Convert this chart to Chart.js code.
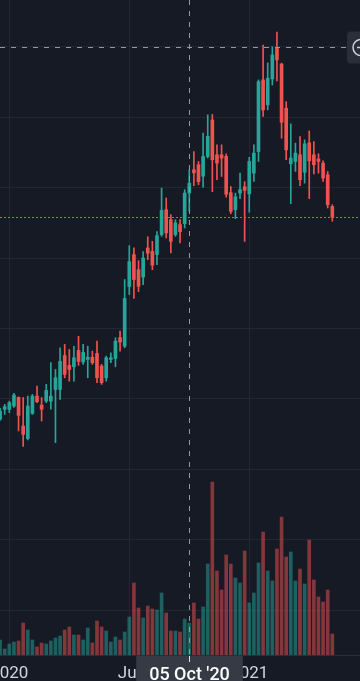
<!DOCTYPE html>
<html>
<head>
<meta charset="utf-8">
<title>Weekly candles</title>
<script src="https://cdn.jsdelivr.net/npm/chart.js@4.4.1/dist/chart.umd.min.js"></script>
<style>
  html, body { margin: 0; padding: 0; background: #161a25; overflow: hidden; }
  canvas { display: block; }
</style>
</head>
<body>
<canvas id="chart" width="360" height="681"></canvas>
<script>
// ========== 1. Data (weekly bars) ==========
const weeks = [
  '2019-12-23', '2019-12-30', '2020-01-06', '2020-01-13', '2020-01-20', '2020-01-27', '2020-02-03', '2020-02-10',
  '2020-02-17', '2020-02-24', '2020-03-02', '2020-03-09', '2020-03-16', '2020-03-23', '2020-03-30', '2020-04-06',
  '2020-04-13', '2020-04-20', '2020-04-27', '2020-05-04', '2020-05-11', '2020-05-18', '2020-05-25', '2020-06-01',
  '2020-06-08', '2020-06-15', '2020-06-22', '2020-06-29', '2020-07-06', '2020-07-13', '2020-07-20', '2020-07-27',
  '2020-08-03', '2020-08-10', '2020-08-17', '2020-08-24', '2020-08-31', '2020-09-07', '2020-09-14', '2020-09-21',
  '2020-09-28', '2020-10-05', '2020-10-12', '2020-10-19', '2020-10-26', '2020-11-02', '2020-11-09', '2020-11-16',
  '2020-11-23', '2020-11-30', '2020-12-07', '2020-12-14', '2020-12-21', '2020-12-28', '2021-01-04', '2021-01-11',
  '2021-01-18', '2021-01-25', '2021-02-01', '2021-02-08', '2021-02-15', '2021-02-22', '2021-03-01', '2021-03-08',
  '2021-03-15', '2021-03-22', '2021-03-29', '2021-04-05', '2021-04-12', '2021-04-19', '2021-04-26', '2021-05-03',
  '2021-05-10'
];

const open = [
  18.55, 19.26, 19.26, 19.49, 20.11, 18.07, 17.18, 18.97, 20.20, 19.56,
  19.84, 19.84, 20.67, 20.67, 23.08, 22.38, 22.28, 23.44, 22.62, 22.80,
  22.96, 23.23, 22.33, 21.50, 22.80, 22.87, 24.36, 23.74, 27.98, 30.25,
  29.18, 28.65, 30.72, 30.48, 30.25, 31.67, 33.44, 32.73, 31.67, 32.38,
  32.45, 34.62, 36.28, 36.63, 35.82, 37.22, 39.82, 37.34, 37.34, 37.23,
  34.65, 33.44, 34.62, 35.07, 34.57, 36.04, 37.57, 42.66, 40.89, 42.73,
  44.96, 43.79, 40.65, 36.70, 36.87, 37.34, 36.10, 38.19, 37.34, 37.04,
  36.75, 35.92, 33.67
];
const high = [
  19.33, 19.61, 19.84, 20.39, 20.14, 20.09, 20.20, 20.32, 20.91, 20.09,
  21.03, 22.57, 22.09, 23.63, 23.87, 23.51, 23.74, 24.45, 23.87, 23.74,
  23.39, 24.10, 22.45, 23.04, 23.28, 24.34, 24.81, 28.48, 30.89, 30.74,
  29.82, 30.46, 31.52, 31.19, 31.88, 34.98, 34.27, 33.09, 32.73, 32.73,
  34.86, 36.28, 37.57, 36.87, 38.88, 40.18, 40.21, 38.05, 38.05, 37.41,
  35.09, 34.62, 36.04, 35.43, 37.16, 38.05, 42.66, 45.14, 43.87, 45.02,
  46.06, 43.85, 41.12, 39.54, 38.17, 38.64, 38.40, 39.04, 38.28, 37.41,
  36.91, 36.16, 33.79
];
const low = [
  18.47, 18.90, 19.02, 19.40, 17.72, 16.63, 17.08, 18.90, 19.73, 18.43,
  19.73, 19.26, 16.89, 19.96, 21.50, 21.26, 21.26, 22.38, 22.45, 21.50,
  22.45, 21.15, 21.03, 21.26, 22.57, 22.28, 23.39, 23.63, 27.41, 27.13,
  27.62, 28.12, 29.89, 29.18, 29.54, 31.55, 31.43, 30.37, 31.55, 31.08,
  32.14, 33.32, 35.14, 35.21, 35.04, 37.11, 34.72, 35.57, 35.80, 34.33,
  33.16, 32.80, 34.22, 31.19, 33.26, 35.45, 36.87, 40.06, 40.53, 42.30,
  42.59, 38.52, 36.99, 33.87, 36.16, 35.14, 35.33, 34.22, 35.99, 36.04,
  35.45, 33.56, 32.62
];
const close = [
  19.13, 19.45, 19.73, 20.27, 18.83, 17.48, 19.49, 20.20, 19.80, 19.26,
  20.60, 20.20, 21.50, 22.66, 21.74, 22.09, 22.92, 22.66, 23.30, 22.96,
  22.57, 21.50, 21.15, 22.92, 22.92, 24.10, 24.04, 27.13, 29.75, 28.48,
  28.00, 30.01, 30.35, 29.50, 31.60, 33.39, 31.79, 31.19, 32.50, 31.88,
  34.62, 35.33, 36.06, 35.43, 37.22, 38.65, 36.99, 36.75, 37.11, 34.54,
  33.32, 34.36, 34.86, 34.82, 36.87, 37.46, 42.54, 40.53, 42.78, 44.43,
  44.08, 39.65, 37.69, 37.11, 37.46, 35.57, 38.12, 36.91, 36.63, 36.87,
  35.69, 33.79, 32.91
];
// volume, millions
const volume = [
  1.5, 0.6, 1.1, 1.3, 1.4, 3.2, 2.5, 1.5, 0.8, 1.2,
  1.1, 1.4, 1.7, 1.9, 2.5, 2.8, 2.0, 2.0, 1.5, 2.7,
  1.2, 3.4, 2.8, 2.4, 1.3, 1.8, 1.5, 2.3, 3.8, 7.2,
  4.7, 3.7, 4.9, 4.6, 4.5, 6.2, 4.2, 2.4, 2.4, 2.3,
  3.6, 3.2, 5.2, 3.6, 4.8, 9.1, 17.3, 8.4, 6.5, 10.0,
  9.1, 7.7, 7.2, 10.4, 5.2, 6.2, 9.2, 12.3, 8.4, 7.4,
  10.6, 13.8, 9.8, 10.3, 7.4, 8.6, 7.1, 11.5, 7.5, 5.8,
  5.3, 6.5, 2.1
];

const priceTicks = [5, 10, 15, 20, 25, 30, 35, 40, 45];
const tickWeeks = ['2020-01-06', '2020-07-06', '2021-01-04'];
const tickLabels = ['2020', 'Jul', '2021'];
const crossWeek = '2020-10-05';
const crossLabel = "05 Oct '20";
const crossPrice = 45;

// ========== 2. Styles ==========
const BG = '#161a25';
const GRID = '#232733';
const UP = '#26a69a';
const DOWN = '#ef5350';
const UP_VOL = 'rgba(38,166,154,0.5)';
const DOWN_VOL = 'rgba(239,83,80,0.5)';
const TEXT = '#d1d4dc';

const isUp = close.map((c, i) => c >= open[i]);
const candleColors = isUp.map(u => u ? UP : DOWN);
const volColors = isUp.map(u => u ? UP_VOL : DOWN_VOL);
const tickIdx = tickWeeks.map(w => weeks.indexOf(w));
const crossIdx = weeks.indexOf(crossWeek);

// ========== 3. Overlay: background, price line, crosshair ==========
const overlay = {
  id: 'overlay',
  beforeDraw(chart) {
    const ctx = chart.ctx;
    ctx.save();
    ctx.fillStyle = BG;
    ctx.fillRect(0, 0, chart.width, chart.height);
    ctx.restore();
  },
  afterDraw(chart) {
    const { ctx, chartArea, scales } = chart;
    const x = scales.x, y = scales.y;
    ctx.save();

    // last price line
    const py = Math.round(y.getPixelForValue(close[close.length - 1])) + 0.5;
    ctx.strokeStyle = DOWN;
    ctx.lineWidth = 1;
    ctx.setLineDash([2, 2]);
    ctx.beginPath();
    ctx.moveTo(0, py);
    ctx.lineTo(chart.width, py);
    ctx.stroke();

    // crosshair
    const cx = Math.round(x.getPixelForValue(crossIdx)) + 0.5;
    const cy = Math.round(y.getPixelForValue(crossPrice)) + 0.5;
    ctx.strokeStyle = '#9598a1';
    ctx.setLineDash([5, 6]);
    ctx.beginPath();
    ctx.moveTo(cx, 0);
    ctx.lineTo(cx, chartArea.bottom);
    ctx.moveTo(0, cy);
    ctx.lineTo(346, cy);
    ctx.stroke();
    ctx.setLineDash([]);

    // time label under the crosshair
    ctx.font = '500 18px Roboto';
    const tw = ctx.measureText(crossLabel).width;
    const bw = tw + 26;
    ctx.fillStyle = '#363a45';
    ctx.fillRect(cx - bw / 2, chartArea.bottom + 1, bw, chart.height - chartArea.bottom);
    ctx.strokeStyle = '#e0e3eb';
    ctx.beginPath();
    ctx.moveTo(cx, chartArea.bottom + 1);
    ctx.lineTo(cx, chartArea.bottom + 7);
    ctx.stroke();
    ctx.fillStyle = '#ffffff';
    ctx.textAlign = 'center';
    ctx.textBaseline = 'alphabetic';
    ctx.fillText(crossLabel, cx, 680);

    // "+" button at the price axis edge
    ctx.fillStyle = '#2a2e39';
    ctx.beginPath();
    ctx.roundRect(347, cy - 16, 24, 32, 4);
    ctx.fill();
    ctx.strokeStyle = '#d1d4dc';
    ctx.lineWidth = 1.5;
    ctx.beginPath();
    ctx.arc(361, cy, 8, 0, Math.PI * 2);
    ctx.moveTo(357, cy);
    ctx.lineTo(365, cy);
    ctx.stroke();

    ctx.restore();
  }
};

// ========== 4. Chart ==========
new Chart(document.getElementById('chart'), {
  type: 'bar',
  data: {
    datasets: [
      {
        label: 'Volume',
        yAxisID: 'v',
        data: volume.map((v, i) => ({ x: i, y: v })),
        backgroundColor: volColors,
        barThickness: 3,
        grouped: false,
        order: 3
      },
      {
        label: 'Wick',
        yAxisID: 'y',
        data: weeks.map((w, i) => ({ x: i, y: [low[i], high[i]] })),
        backgroundColor: candleColors,
        barThickness: 1,
        grouped: false,
        order: 2
      },
      {
        label: 'Body',
        yAxisID: 'y',
        data: weeks.map((w, i) => ({ x: i, y: [open[i], close[i]] })),
        backgroundColor: candleColors,
        barThickness: 3,
        minBarLength: 1,
        grouped: false,
        order: 1
      }
    ]
  },
  options: {
    responsive: false,
    devicePixelRatio: 1,
    animation: false,
    layout: { padding: 0 },
    plugins: {
      legend: { display: false },
      tooltip: { enabled: false }
    },
    scales: {
      x: {
        type: 'linear',
        position: 'bottom',
        min: -0.02,
        max: 78,
        offset: false,
        afterBuildTicks: s => { s.ticks = tickIdx.map(v => ({ value: v })); },
        afterFit: s => { s.height = 26; s.paddingLeft = 0; s.paddingRight = 0; },
        ticks: {
          autoSkip: false,
          maxRotation: 0,
          padding: 9,
          color: TEXT,
          font: { family: 'Roboto', size: 17 },
          callback: (v, i) => tickLabels[i]
        },
        grid: { color: GRID, drawTicks: false, offset: false },
        border: { color: '#2a2e39' }
      },
      y: {
        type: 'linear',
        position: 'right',
        min: 1.803,
        max: 48.339,
        afterBuildTicks: s => { s.ticks = priceTicks.map(v => ({ value: v })); },
        afterFit: s => { s.width = 0; },
        ticks: { display: false },
        grid: { color: GRID, drawTicks: false },
        border: { display: false }
      },
      v: {
        type: 'linear',
        display: false,
        min: 0,
        max: 65.5
      }
    }
  },
  plugins: [overlay]
});
</script>
</body>
</html>
